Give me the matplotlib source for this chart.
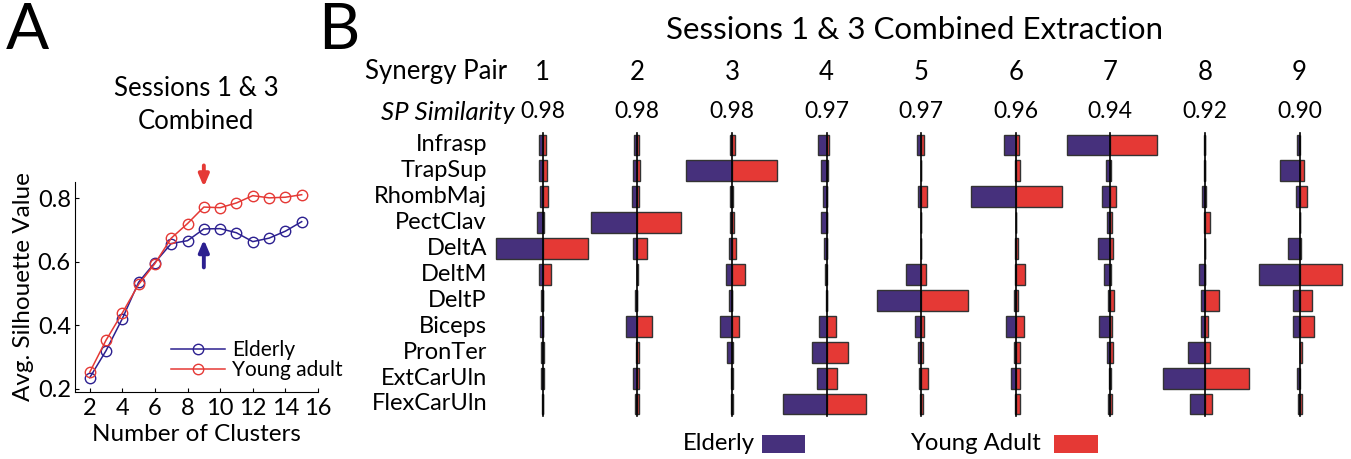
import numpy as np
import matplotlib
matplotlib.use("Agg")
import matplotlib.pyplot as plt
from matplotlib.patches import Rectangle
from matplotlib.transforms import blended_transform_factory

plt.rcParams["font.family"] = ["Lato", "DejaVu Sans"]

W, H = 1351, 459
PURPLE = "#46307c"
RED = "#e53935"
NAVY = "#2c2090"

# Panel A: silhouette vs number of clusters
n_clusters = [2, 3, 4, 5, 6, 7, 8, 9, 10, 11, 12, 13, 14, 15]
sil_elderly = [0.235, 0.320, 0.421, 0.536, 0.598, 0.658, 0.667, 0.704, 0.705, 0.692, 0.664, 0.675, 0.697, 0.727]
sil_young = [0.252, 0.353, 0.439, 0.529, 0.595, 0.675, 0.721, 0.773, 0.771, 0.786, 0.809, 0.802, 0.804, 0.812]
chosen_k = 9

# Panel B: synergy weights per pair
muscles = ["Infrasp", "TrapSup", "RhombMaj", "PectClav", "DeltA", "DeltM",
           "DeltP", "Biceps", "PronTer", "ExtCarUln", "FlexCarUln"]
pairs = [1, 2, 3, 4, 5, 6, 7, 8, 9]
sp_similarity = ["0.98", "0.98", "0.98", "0.97", "0.97", "0.96", "0.94", "0.92", "0.90"]

w_elderly = [
    [0.07, 0.07, 0.05, 0.12, 0.99, 0.07, 0.03, 0.06, 0.04, 0.04, 0.01],
    [0.08, 0.10, 0.11, 0.98, 0.10, 0.01, 0.04, 0.23, 0.02, 0.09, 0.04],
    [0.04, 0.97, 0.05, 0.03, 0.06, 0.13, 0.07, 0.26, 0.11, 0.01, 0.01],
    [0.17, 0.12, 0.07, 0.12, 0.05, 0.03, 0.01, 0.15, 0.31, 0.21, 0.92],
    [0.09, 0.01, 0.06, 0.01, 0.00, 0.31, 0.94, 0.13, 0.06, 0.04, 0.03],
    [0.25, 0.01, 0.94, 0.00, 0.01, 0.01, 0.04, 0.21, 0.04, 0.09, 0.02],
    [0.92, 0.10, 0.17, 0.08, 0.27, 0.13, 0.04, 0.24, 0.08, 0.03, 0.04],
    [0.01, 0.01, 0.06, 0.02, 0.00, 0.13, 0.09, 0.09, 0.36, 0.88, 0.31],
    [0.06, 0.42, 0.08, 0.00, 0.24, 0.86, 0.14, 0.14, 0.00, 0.05, 0.04],
]
w_young = [
    [0.08, 0.10, 0.11, 0.03, 0.96, 0.18, 0.01, 0.01, 0.02, 0.02, 0.00],
    [0.04, 0.06, 0.04, 0.92, 0.21, 0.01, 0.00, 0.31, 0.04, 0.04, 0.03],
    [0.06, 0.96, 0.02, 0.04, 0.08, 0.27, 0.01, 0.14, 0.02, 0.02, 0.02],
    [0.05, 0.04, 0.02, 0.00, 0.00, 0.02, 0.00, 0.21, 0.46, 0.22, 0.83],
    [0.07, 0.00, 0.13, 0.00, 0.00, 0.10, 0.99, 0.06, 0.03, 0.15, 0.04],
    [0.07, 0.10, 0.97, 0.00, 0.05, 0.19, 0.05, 0.17, 0.10, 0.10, 0.10],
    [0.99, 0.02, 0.13, 0.03, 0.05, 0.01, 0.08, 0.03, 0.05, 0.01, 0.03],
    [0.01, 0.01, 0.02, 0.11, 0.00, 0.01, 0.30, 0.06, 0.10, 0.94, 0.15],
    [0.00, 0.10, 0.15, 0.00, 0.04, 0.90, 0.26, 0.31, 0.05, 0.00, 0.05],
]


def px_axes(fig, x0, y0, x1, y1):
    # pixel box (top-left origin) -> axes
    return fig.add_axes([x0 / W, 1 - y1 / H, (x1 - x0) / W, (y1 - y0) / H])


fig = plt.figure(figsize=(W / 100, H / 100), dpi=100)

# ---------------- Panel A ----------------
axA = px_axes(fig, 75, 182, 318, 392)
axA.plot(n_clusters, sil_elderly, "-o", color=NAVY, mfc="none", ms=7.5, lw=1.1,
         label="Elderly")
axA.plot(n_clusters, sil_young, "-o", color=RED, mfc="none", ms=7.5, lw=1.1,
         label="Young adult")
axA.set_xlim(1.1, 16)
axA.set_ylim(0.19, 0.852)
axA.set_xticks([2, 4, 6, 8, 10, 12, 14, 16])
axA.set_yticks([0.2, 0.4, 0.6, 0.8])
axA.set_yticklabels(["0.2", "0.4", "0.6", "0.8"])
axA.spines[["top", "right"]].set_visible(False)
axA.tick_params(direction="in", labelsize=17, length=3, pad=3)
axA.tick_params(axis="x", pad=4)
axA.set_xlabel("Number of Clusters", fontsize=17.5, labelpad=4)
axA.set_ylabel("Avg. Silhouette Value", fontsize=17.5, labelpad=3)

y_young = sil_young[n_clusters.index(chosen_k)]
y_eld = sil_elderly[n_clusters.index(chosen_k)]
axA.annotate("", xy=(chosen_k, y_young + 0.055), xytext=(chosen_k, y_young + 0.14),
             arrowprops=dict(arrowstyle="-|>,head_length=0.7,head_width=0.3",
                             color=RED, lw=2.8), annotation_clip=False)
axA.annotate("", xy=(chosen_k, y_eld - 0.025), xytext=(chosen_k, y_eld - 0.13),
             arrowprops=dict(arrowstyle="-|>,head_length=0.7,head_width=0.3",
                             color=NAVY, lw=2.8), annotation_clip=False)
axA.legend(loc="upper left", bbox_to_anchor=(0.36, 0.285), frameon=False,
           fontsize=15, handlelength=2.6, handletextpad=0.35, labelspacing=0.0,
           borderaxespad=0)

fig.text(6 / W, 1 - 31 / H, "A", fontsize=46, va="center", ha="left")
fig.text(196 / W, 1 - 105 / H, "Sessions 1 & 3\nCombined", fontsize=18.5,
         ha="center", va="center", linespacing=1.4)

# ---------------- Panel B ----------------
col_px = 542.7
col_step_px = 94.6
unit_px = 47.3  # pixels per weight unit
spacing = col_step_px / unit_px
ax_left, ax_right = 440, 1350
row_top, row_step = 145, 25.9
ax_top, ax_bot = 130, 420

axB = px_axes(fig, ax_left, ax_top, ax_right, ax_bot)
centers = [(p - 1) * spacing for p in pairs]
axB.set_xlim(-(col_px - ax_left) / unit_px,
             centers[-1] + (ax_right - (col_px + 8 * col_step_px)) / unit_px)
rows = np.arange(len(muscles))
axB.set_ylim((ax_bot - row_top) / row_step, -(row_top - ax_top) / row_step)
axB.axis("off")

for c, we, wy in zip(centers, w_elderly, w_young):
    we = np.array(we)
    wy = np.array(wy)
    axB.barh(rows, we, left=c - we, height=0.81, color=PURPLE,
             edgecolor="#333333", lw=1.0, zorder=2)
    axB.barh(rows, wy, left=c, height=0.81, color=RED,
             edgecolor="#333333", lw=1.0, zorder=2)
    axB.plot([c, c], [-0.46, 10.46], color="black", lw=1.2, zorder=3)

trB = blended_transform_factory(fig.transFigure, axB.transData)
for r, m in zip(rows, muscles):
    axB.text(487 / W, r, m, transform=trB, ha="right", va="center",
             fontsize=17)

trX = blended_transform_factory(axB.transData, fig.transFigure)
for c, p, s in zip(centers, pairs, sp_similarity):
    axB.text(c, 1 - 72 / H, str(p), transform=trX, ha="center", va="center",
             fontsize=18.5)
    axB.text(c, 1 - 112 / H, s, transform=trX, ha="center",
             va="center", fontsize=16.5)

fig.text(507 / W, 1 - 72 / H, "Synergy Pair", fontsize=18.5, ha="right",
         va="center")
fig.text(515 / W, 1 - 112 / H, "SP Similarity", fontsize=18.5, ha="right",
         va="center", style="italic")
fig.text(915 / W, 1 - 30 / H, "Sessions 1 & 3 Combined Extraction",
         fontsize=22.5, ha="center", va="center")
fig.text(318 / W, 1 - 31 / H, "B", fontsize=46, va="center", ha="left")

# legend for panel B
fig.text(755 / W, 1 - 444 / H, "Elderly", fontsize=17.2, ha="right",
         va="center")
fig.patches.append(Rectangle((762 / W, 1 - 453 / H), 43 / W, 18 / H,
                             transform=fig.transFigure, facecolor=PURPLE,
                             edgecolor="none"))
fig.text(1041 / W, 1 - 444 / H, "Young Adult", fontsize=17.2, ha="right",
         va="center")
fig.patches.append(Rectangle((1054 / W, 1 - 453 / H), 44 / W, 18 / H,
                             transform=fig.transFigure, facecolor=RED,
                             edgecolor="none"))

fig.savefig("out.png", dpi=100)
